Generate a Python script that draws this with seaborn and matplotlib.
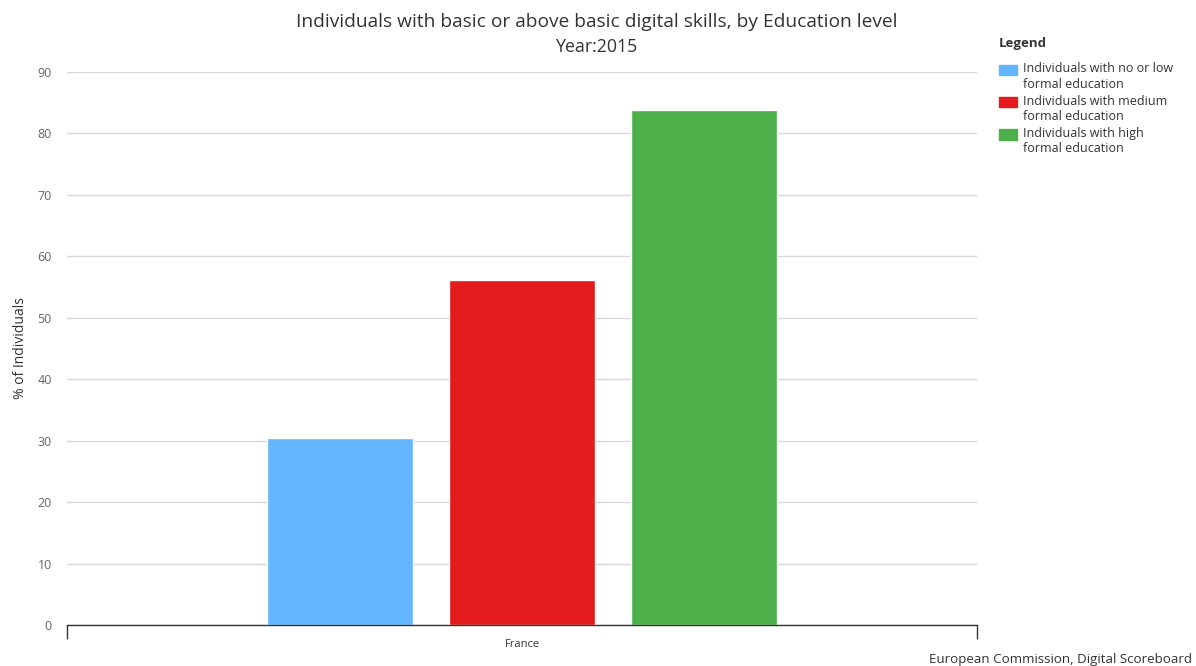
import matplotlib
matplotlib.use("Agg")
import matplotlib.pyplot as plt
import matplotlib.patches as mpatches
from matplotlib.legend_handler import HandlerPatch
import pandas as pd
import seaborn as sns

country = ["France", "France", "France"]
education = ["Individuals with no or low\nformal education",
             "Individuals with medium\nformal education",
             "Individuals with high\nformal education"]
values = [30.5, 56.2, 83.8]
colors = ["#63b5fe", "#e41a1c", "#4daf4a"]
y_ticks = [0, 10, 20, 30, 40, 50, 60, 70, 80, 90]

df = pd.DataFrame({"country": country, "education": education, "value": values})

sns.set_theme(style="white")
plt.rcParams["font.family"] = ["Open Sans", "DejaVu Sans"]

fig = plt.figure(figsize=(11.96, 6.66), dpi=100)
ax = fig.add_axes([67 / 1196, 41 / 666, 910 / 1196, 553 / 666])

sns.barplot(data=df, x="country", y="value", hue="education", palette=colors,
            width=0.6, gap=0.2, saturation=1, ax=ax, legend=False)

ax.set_xlim(-0.5, 0.5)
ax.set_ylim(0, 90)
ax.set_yticks(y_ticks)
ax.yaxis.grid(True, color="#d8d8d8", linewidth=1)
ax.set_axisbelow(True)
ax.tick_params(axis="y", length=0, labelsize=9, labelcolor="#666666", pad=11)
ax.set_xticks([0], ["France"])
ax.set_xticks([-0.5, 0.5], minor=True)
ax.tick_params(axis="x", which="major", length=0, labelsize=8, labelcolor="#333333", pad=10)
ax.tick_params(axis="x", which="minor", length=10, width=1, color="#333333", bottom=True)
for s in ["top", "right", "left"]:
    ax.spines[s].set_visible(False)
ax.spines["bottom"].set_color("#333333")
ax.spines["bottom"].set_linewidth(1)
ax.set_xlabel("")
ax.set_ylabel("% of Individuals", fontsize=10, color="#333333")
ax.yaxis.set_label_coords(-39 / 910, 0.5)

fig.text(597 / 1196, 1 - 22 / 666, "Individuals with basic or above basic digital skills, by Education level",
         ha="center", va="center", fontsize=13.8, color="#333333")
fig.text(597 / 1196, 1 - 47 / 666, "Year:2015", ha="center", va="center", fontsize=12.8, color="#333333")


# legend squares sit next to the first line of each two-line label
def top_square(legend, orig_handle, xdescent, ydescent, width, height, fontsize):
    return mpatches.Rectangle((-xdescent, -ydescent + 0.6 * fontsize), width, height)


handles = [mpatches.Patch(color=c, label=l) for c, l in zip(colors, education)]
leg = fig.legend(handles=handles, title="Legend", loc="upper left",
                 bbox_to_anchor=(994 / 1196, 1 - 32 / 666), frameon=False,
                 fontsize=9, title_fontsize=9.5, handlelength=1.4, handleheight=0.9,
                 handletextpad=0.5, labelspacing=0.35, borderaxespad=0,
                 handler_map={mpatches.Patch: HandlerPatch(patch_func=top_square)})
leg._legend_box.align = "left"
leg._legend_box.sep = 9
leg.get_title().set_fontweight("bold")
leg.get_title().set_color("#333333")
for t in leg.get_texts():
    t.set_color("#333333")

fig.text(929 / 1196, 1 - 660 / 666, "European Commission, Digital Scoreboard",
         ha="left", va="center", fontsize=9.6, color="#333333")

fig.savefig("out.png", dpi=100)
